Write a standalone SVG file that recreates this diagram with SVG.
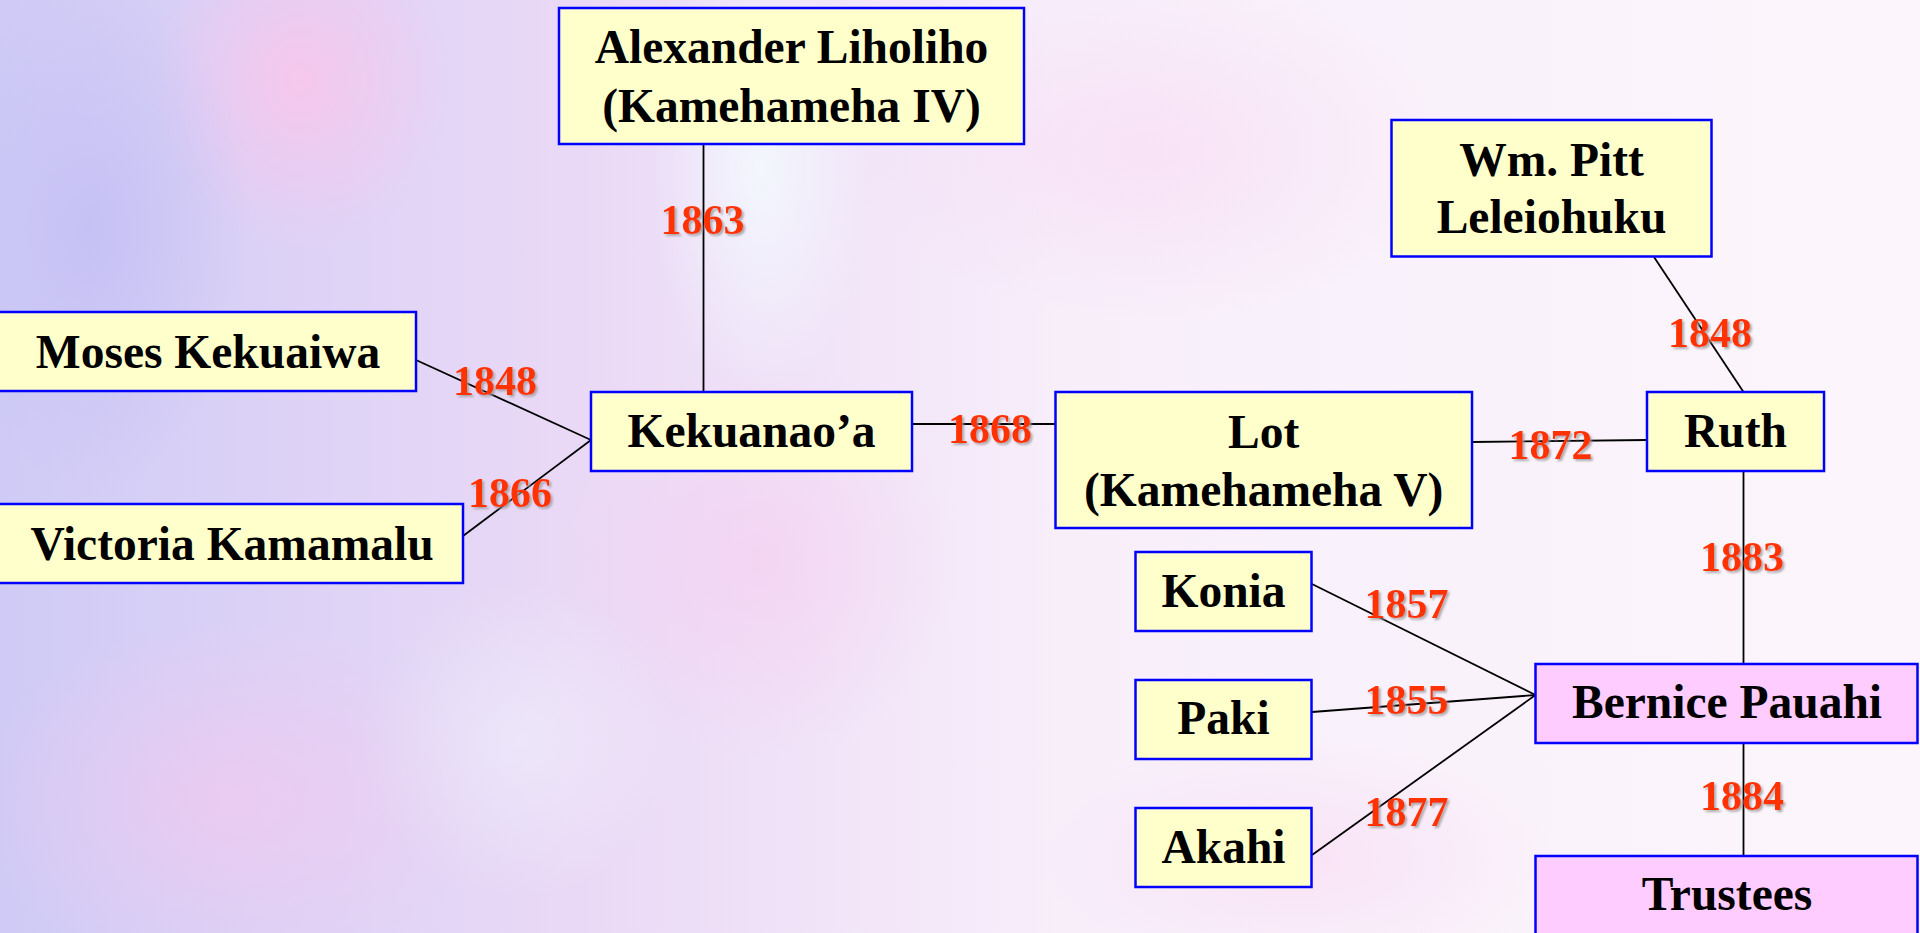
<svg xmlns="http://www.w3.org/2000/svg" width="1920" height="933" viewBox="0 0 1920 933">
<defs>
<linearGradient id="bg" x1="0" y1="0" x2="1" y2="0">
<stop offset="0" stop-color="#CFCBF6"/>
<stop offset="0.3" stop-color="#EAD9F6"/>
<stop offset="0.55" stop-color="#F7EEFA"/>
<stop offset="1" stop-color="#FCF6FC"/>
</linearGradient>
<radialGradient id="pk1" cx="0.5" cy="0.5" r="0.5">
<stop offset="0" stop-color="#F9C6EC" stop-opacity="0.9"/>
<stop offset="1" stop-color="#F9C6EC" stop-opacity="0"/>
</radialGradient>
<radialGradient id="bl1" cx="0.5" cy="0.5" r="0.5">
<stop offset="0" stop-color="#C4C0F4" stop-opacity="0.9"/>
<stop offset="1" stop-color="#C4C0F4" stop-opacity="0"/>
</radialGradient>
<radialGradient id="wh1" cx="0.5" cy="0.5" r="0.5">
<stop offset="0" stop-color="#F4FCFF" stop-opacity="0.8"/>
<stop offset="1" stop-color="#F4FCFF" stop-opacity="0"/>
</radialGradient>
<filter id="sh" x="-10%" y="-10%" width="130%" height="130%">
<feDropShadow dx="2" dy="2" stdDeviation="0.8" flood-color="#999999" flood-opacity="0.8"/>
</filter>
</defs>
<style>
.n{fill:#FFFFCC;stroke:#0000FF;stroke-width:2.5}
.p{fill:#FFCCFF;stroke:#0000FF;stroke-width:2.5}
.t{font-family:"Liberation Serif","Times New Roman",serif;font-weight:bold;font-size:47.5px;fill:#000000;text-anchor:middle}
.y{font-family:"Liberation Serif","Times New Roman",serif;font-weight:bold;font-size:42px;fill:#FF3300;text-anchor:middle;filter:url(#sh)}
.c line{stroke:#000000;stroke-width:1.8}
</style>
<rect x="0" y="0" width="1920" height="933" fill="url(#bg)"/>
<ellipse cx="300" cy="80" rx="150" ry="170" fill="url(#pk1)"/>
<ellipse cx="90" cy="230" rx="160" ry="260" fill="url(#bl1)"/>
<ellipse cx="760" cy="170" rx="110" ry="230" fill="url(#wh1)"/>
<ellipse cx="760" cy="560" rx="200" ry="200" fill="url(#pk1)" opacity="0.5"/>
<ellipse cx="230" cy="800" rx="260" ry="180" fill="url(#pk1)" opacity="0.6"/>
<ellipse cx="520" cy="740" rx="160" ry="160" fill="url(#wh1)" opacity="0.5"/>
<ellipse cx="1150" cy="150" rx="300" ry="170" fill="url(#pk1)" opacity="0.35"/>
<ellipse cx="1300" cy="860" rx="260" ry="120" fill="url(#pk1)" opacity="0.35"/>

<g id="connectors" class="c">
<line x1="703.5" y1="144" x2="703.5" y2="392"/>
<line x1="416" y1="360" x2="591" y2="440"/>
<line x1="463" y1="536" x2="591" y2="440"/>
<line x1="912" y1="424" x2="1055.5" y2="424"/>
<line x1="1472" y1="442" x2="1647" y2="440"/>
<line x1="1654" y1="257" x2="1743.5" y2="392"/>
<line x1="1743.5" y1="471" x2="1743.5" y2="664"/>
<line x1="1312" y1="584" x2="1535.5" y2="695"/>
<line x1="1312" y1="712" x2="1535.5" y2="695"/>
<line x1="1312" y1="855" x2="1535.5" y2="695"/>
<line x1="1743.5" y1="743" x2="1743.5" y2="856"/>
</g>

<g id="node-alexander">
<rect class="n" x="559" y="8" width="465" height="136"/>
<text class="t" x="791.5" y="63">Alexander Liholiho</text>
<text class="t" x="791.5" y="122">(Kamehameha IV)</text>
</g>
<g id="node-moses">
<rect class="n" x="-2" y="312" width="418" height="79"/>
<text class="t" x="208" y="368">Moses Kekuaiwa</text>
</g>
<g id="node-victoria">
<rect class="n" x="-2" y="504" width="465" height="79"/>
<text class="t" x="232" y="560">Victoria Kamamalu</text>
</g>
<g id="node-kekuanaoa">
<rect class="n" x="591" y="392" width="321" height="79"/>
<text class="t" x="751.5" y="447">Kekuanao’a</text>
</g>
<g id="node-lot">
<rect class="n" x="1055.5" y="392" width="416.5" height="136"/>
<text class="t" x="1263.7" y="448">Lot</text>
<text class="t" x="1263.7" y="505.6">(Kamehameha V)</text>
</g>
<g id="node-ruth">
<rect class="n" x="1647" y="392" width="177" height="79"/>
<text class="t" x="1735.5" y="447">Ruth</text>
</g>
<g id="node-wmpitt">
<rect class="n" x="1391.5" y="120" width="320" height="136.5"/>
<text class="t" x="1551.5" y="176">Wm. Pitt</text>
<text class="t" x="1551.5" y="233">Leleiohuku</text>
</g>
<g id="node-konia">
<rect class="n" x="1135.5" y="552" width="176" height="79"/>
<text class="t" x="1223.5" y="607">Konia</text>
</g>
<g id="node-paki">
<rect class="n" x="1135.5" y="680" width="176" height="79"/>
<text class="t" x="1223.5" y="734">Paki</text>
</g>
<g id="node-akahi">
<rect class="n" x="1135.5" y="808" width="176" height="79"/>
<text class="t" x="1223.5" y="862.5">Akahi</text>
</g>
<g id="node-bernice">
<rect class="p" x="1535.5" y="664" width="382" height="79"/>
<text class="t" x="1727" y="718">Bernice Pauahi</text>
</g>
<g id="node-trustees">
<rect class="p" x="1535.5" y="856" width="382" height="90"/>
<text class="t" x="1727" y="910">Trustees</text>
</g>

<g id="labels">
<text class="y" x="702.5" y="234">1863</text>
<text class="y" x="495" y="394.5">1848</text>
<text class="y" x="510" y="507">1866</text>
<text class="y" x="990" y="443">1868</text>
<text class="y" x="1550.5" y="459">1872</text>
<text class="y" x="1710" y="346.5">1848</text>
<text class="y" x="1742" y="570.5">1883</text>
<text class="y" x="1406.5" y="618">1857</text>
<text class="y" x="1406.5" y="714">1855</text>
<text class="y" x="1406.5" y="826">1877</text>
<text class="y" x="1742" y="810">1884</text>
</g>
</svg>
